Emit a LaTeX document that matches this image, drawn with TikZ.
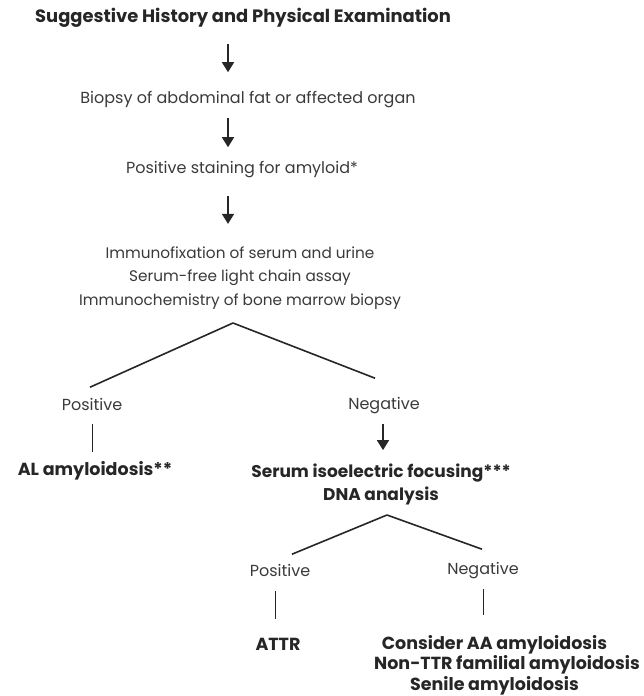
\documentclass[tikz,border=0pt]{standalone}
\usepackage{fontspec}
\setmainfont{Poppins}
\usepackage{xcolor}
\usetikzlibrary{arrows.meta}

\definecolor{ink}{HTML}{262626}
\definecolor{softink}{HTML}{3A3A3A}

\begin{document}
\begin{tikzpicture}[x=1pt,y=1pt,>={Triangle[width=12pt,length=10pt]},line width=1.6pt,draw=ink]

                \tikzset{plain/.style={inner sep=0pt, text=softink, text height=11pt, text depth=0pt, font=\fontsize{16}{23.5}\selectfont},
                         heavy/.style={plain, text=ink, font=\fontsize{17.5}{23}\selectfont\bfseries},
                         block/.style={inner sep=0pt, align=center, text=softink, font=\fontsize{15.3}{23.5}\selectfont},
                         heavyblock/.style={block, text=ink, font=\fontsize{17}{23}\selectfont\bfseries},
                         thinline/.style={line width=0.9pt}}

                \useasboundingbox (0,0) rectangle (643,-696);

                % main chain
                \node[heavy, font=\fontsize{17.9}{23}\selectfont\bfseries] (hist) at (243,-17) {Suggestive History and Physical Examination};
                \coordinate (spine) at (228,-17);
                \node[plain] (biopsy) [below of=hist, node distance=81pt, xshift=5pt] {Biopsy of abdominal fat or affected organ};
                \node[plain] (stain) [below of=biopsy, node distance=70pt, xshift=-6pt] {Positive staining for amyloid*};
                \node[block] (tests) [below of=stain, node distance=110pt, xshift=-2pt] {Immunofixation of serum and urine\\Serum-free light chain assay\\Immunochemistry of bone marrow biopsy};

                % first split
                \coordinate[below of=tests, node distance=45pt, xshift=-7pt] (fork1);
                \node[plain] (pos1) [below of=fork1, node distance=82pt, xshift=-141pt] {Positive};
                \node[plain] (neg1) [below of=fork1, node distance=81pt, xshift=151pt] {Negative};
                \node[heavy] (al) [below of=pos1, node distance=65pt, xshift=3pt] {AL amyloidosis**};
                \node[heavyblock] (serum) [below of=neg1, node distance=80pt, xshift=-3pt] {Serum isoelectric focusing***\\DNA analysis};

                % second split
                \coordinate[below of=serum, node distance=31pt, xshift=6pt] (fork2);
                \node[plain] (pos2) [below of=fork2, node distance=56pt, xshift=-107pt] {Positive};
                \node[plain] (neg2) [below of=fork2, node distance=54pt, xshift=96pt] {Negative};
                \node[heavy] (attr) [below of=pos2, node distance=74pt, xshift=-2pt] {ATTR};
                \node[heavyblock, font=\fontsize{17.5}{20.5}\selectfont\bfseries] (other) [below of=neg2, node distance=96pt, xshift=11.5pt] {Consider AA amyloidosis\\\hspace*{25pt}Non-TTR familial amyloidosis\\Senile amyloidosis};

                \draw[->, shorten <=20.5pt, shorten >=19.5pt] (hist.south -| spine) -- (biopsy.north -| spine);
                \draw[->, shorten <=13.5pt, shorten >=14.5pt] (biopsy.south -| spine) -- (stain.north -| spine);
                \draw[->, shorten <=21.5pt, shorten >=22pt] (stain.south -| spine) -- (tests.north -| spine);

                \draw (fork1) -- ([xshift=-2pt, yshift=11.5pt]pos1.north);
                \draw (fork1) -- ([xshift=-9pt, yshift=19.5pt]neg1.north);
                \draw[thinline, shorten <=12.5pt, shorten >=11.5pt] (pos1.south) -- (pos1.south |- al.north);
                \draw[->, shorten <=13.5pt, shorten >=12.5pt] ([xshift=-1pt]neg1.south) -- ([xshift=-1pt]neg1.south |- serum.north);

                \draw (fork2) -- ([xshift=12pt, yshift=10.5pt]pos2.north);
                \draw (fork2) -- ([xshift=-1pt, yshift=13.5pt]neg2.north);
                \draw[thinline, shorten <=13.5pt, shorten >=19.5pt] ([xshift=-5pt]pos2.south) -- ([xshift=-5pt]pos2.south |- attr.north);
                \draw[thinline, shorten <=13.5pt, shorten >=19pt] (neg2.south) -- (neg2.south |- other.north);
            \end{tikzpicture}
\end{document}
